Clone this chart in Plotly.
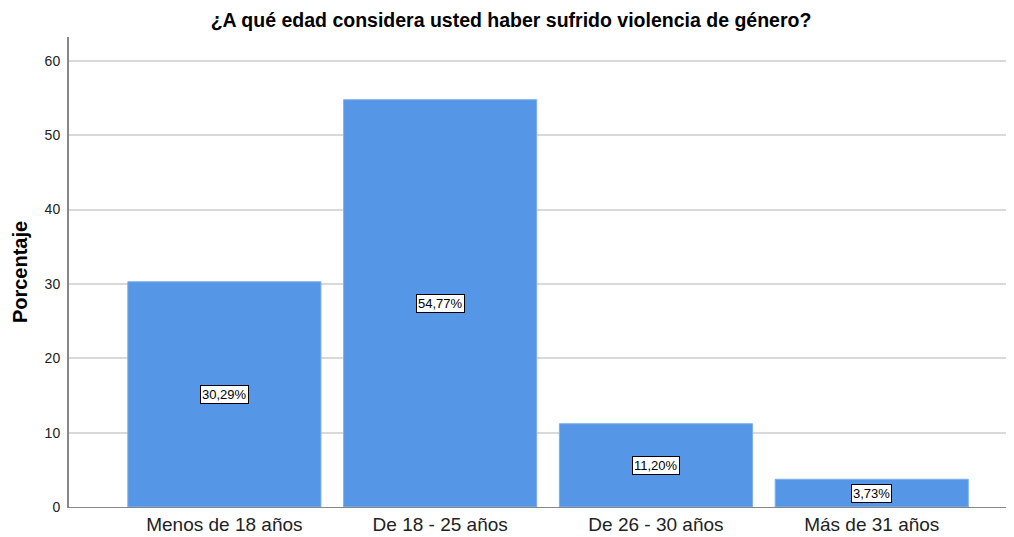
import plotly.graph_objects as go

categories = ["Menos de 18 años", "De 18 - 25 años", "De 26 - 30 años", "Más de 31 años"]
values = [30.29, 54.77, 11.20, 3.73]
labels = ["30,29%", "54,77%", "11,20%", "3,73%"]
y_ticks = [0, 10, 20, 30, 40, 50, 60]

FONT = "Liberation Sans, Arial"

fig = go.Figure()
fig.add_trace(go.Bar(
    x=list(range(len(categories))), y=values,
    width=0.895,
    marker=dict(color="#5596E6", line=dict(color="#7FB0EC", width=1)),
    hoverinfo="skip",
))

for i, (v, t) in enumerate(zip(values, labels)):
    fig.add_annotation(
        x=i, y=v / 2, xref="x", yref="y", text=t, showarrow=False,
        font=dict(family=FONT, size=13, color="black"),
        bgcolor="white", bordercolor="black", borderwidth=1, borderpad=1,
    )

fig.update_layout(
    width=1006, height=529,
    margin=dict(l=61, r=2, t=29, b=21),
    paper_bgcolor="white", plot_bgcolor="white",
    showlegend=False,
    title=dict(
        text="<b>¿A qué edad considera usted haber sufrido violencia de género?</b>",
        x=0.5, xanchor="center", y=0.977, yanchor="middle",
        font=dict(family=FONT, size=19.5, color="black"),
    ),
    xaxis=dict(
        range=[-0.72, 3.65],
        tickmode="array", tickvals=list(range(len(categories))), ticktext=categories,
        tickfont=dict(family=FONT, size=19, color="#222"),
        showgrid=False, zeroline=False,
        showline=True, linecolor="#888", linewidth=1,
        ticks="", ticklen=0,
    ),
    yaxis=dict(
        range=[0, 63.2],
        tickmode="array", tickvals=y_ticks,
        tickfont=dict(family=FONT, size=14, color="#222"),
        showgrid=True, gridcolor="#D9D9D9", gridwidth=2,
        zeroline=False,
        showline=True, linecolor="#888", linewidth=2,
        ticks="", ticklabelstandoff=4,
        title=dict(text="<b>Porcentaje</b>", standoff=12,
                   font=dict(family=FONT, size=20, color="black")),
    ),
)

fig.write_html("out.html")
